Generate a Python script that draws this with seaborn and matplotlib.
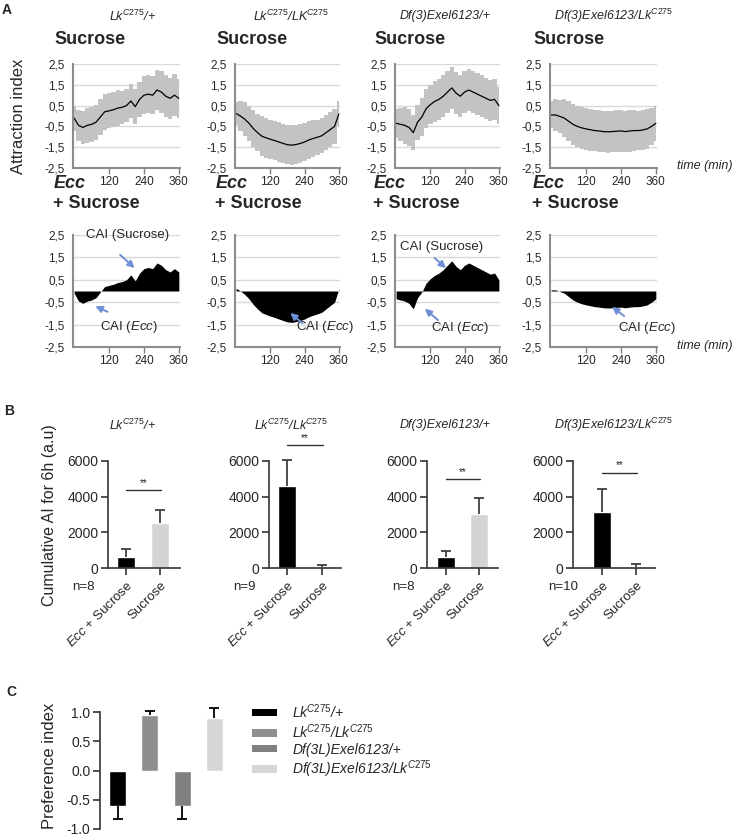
import numpy as np
import seaborn as sns
import matplotlib.pyplot as plt
from matplotlib.patches import Patch

sns.set_style("ticks")
plt.rcParams['font.family'] = ['Liberation Sans', 'DejaVu Sans']
plt.rcParams['mathtext.fontset'] = 'custom'
plt.rcParams['mathtext.rm'] = 'Liberation Sans'
plt.rcParams['mathtext.it'] = 'Liberation Sans:italic'
plt.rcParams['mathtext.bf'] = 'Liberation Sans:bold'
plt.rcParams['axes.unicode_minus'] = False

# ---------------- data ----------------
# panel A: attraction index to sucrose over time (mean and SEM band)
time_min = [0, 15, 30, 45, 60, 75, 90, 105, 120, 135, 150, 165, 180,
            195, 210, 225, 240, 255, 270, 285, 300, 315, 330, 345, 360]

ai_lk_het = [-0.10, -0.45, -0.55, -0.45, -0.40, -0.30, -0.05, 0.20, 0.25, 0.30, 0.38, 0.42, 0.50,
             0.72, 0.45, 0.80, 1.00, 1.05, 1.00, 1.25, 1.15, 0.95, 0.85, 1.00, 0.85]
ai_lk_hom = [0.12, 0.00, -0.15, -0.35, -0.60, -0.80, -0.97, -1.05, -1.12, -1.18, -1.25, -1.32, -1.38,
             -1.40, -1.37, -1.32, -1.25, -1.15, -1.08, -1.02, -0.95, -0.80, -0.65, -0.50, 0.10]
ai_df_het = [-0.35, -0.40, -0.45, -0.55, -0.80, -0.30, -0.05, 0.35, 0.55, 0.70, 0.80, 0.95, 1.15,
             1.35, 1.10, 0.95, 1.15, 1.25, 1.15, 1.05, 0.95, 0.85, 0.75, 0.80, 0.50]
ai_df_lk = [0.05, 0.05, -0.02, -0.10, -0.25, -0.40, -0.50, -0.57, -0.62, -0.66, -0.70, -0.72, -0.75,
            -0.76, -0.75, -0.73, -0.72, -0.75, -0.72, -0.70, -0.70, -0.67, -0.62, -0.50, -0.35]

sem_lk_het = [0.60, 0.75, 0.80, 0.85, 0.85, 0.85, 0.85, 0.85, 0.85, 0.85, 0.85, 0.80, 0.80,
              0.80, 0.85, 0.85, 0.90, 0.90, 0.90, 0.95, 1.00, 1.00, 1.00, 1.00, 0.95]
sem_lk_hom = [0.55, 0.70, 0.80, 0.85, 0.90, 0.90, 0.95, 0.95, 0.95, 0.95, 0.95, 0.95, 0.95,
              0.95, 0.95, 0.95, 0.90, 0.90, 0.90, 0.85, 0.85, 0.85, 0.85, 0.85, 0.60]
sem_df_het = [0.70, 0.80, 0.90, 0.90, 0.85, 0.85, 0.90, 0.95, 0.95, 1.00, 1.00, 1.00, 1.00,
              1.00, 1.00, 1.00, 1.00, 1.00, 1.00, 1.00, 1.00, 1.00, 1.00, 1.00, 0.90]
sem_df_lk = [0.65, 0.75, 0.80, 0.90, 0.95, 1.00, 1.00, 1.00, 1.00, 1.00, 1.00, 1.00, 1.00,
             1.00, 1.00, 1.00, 1.00, 1.00, 1.00, 1.00, 0.95, 0.95, 0.95, 0.90, 0.85]

geno_a = ['Lk$^{\\mathit{C275}}$/+', 'Lk$^{\\mathit{C275}}$/LK$^{\\mathit{C275}}$',
          'Df(3)Exel6123/+', 'Df(3)Exel6123/Lk$^{\\mathit{C275}}$']
geno_b = ['Lk$^{\\mathit{C275}}$/+', 'Lk$^{\\mathit{C275}}$/Lk$^{\\mathit{C275}}$',
          'Df(3)Exel6123/+', 'Df(3)Exel6123/Lk$^{\\mathit{C275}}$']
geno_c = ['Lk$^{\\mathit{C275}}$/+', 'Lk$^{\\mathit{C275}}$/Lk$^{\\mathit{C275}}$',
          'Df(3L)Exel6123/+', 'Df(3L)Exel6123/Lk$^{\\mathit{C275}}$']

# panel B: cumulative AI for 6h
treatments = ['Ecc + Sucrose', 'Sucrose']
cai_ecc = [620, 4610, 620, 3140]
cai_ecc_err = [430, 1430, 330, 1270]
cai_suc = [2520, 30, 3010, 60]
cai_suc_err = [750, 150, 930, 180]
n_flies = [8, 9, 8, 10]
sig_level = [4350, 6900, 5000, 5350]

# panel C: preference index
pref = [-0.61, 0.95, -0.61, 0.90]
pref_err = [0.22, 0.06, 0.22, 0.16]
pref_colors = ['#000000', '#8f8f8f', '#808080', '#d6d6d6']

ai_means = [ai_lk_het, ai_lk_hom, ai_df_het, ai_df_lk]
ai_sems = [sem_lk_het, sem_lk_hom, sem_df_het, sem_df_lk]

# ---------------- figure ----------------
W, H = 736, 839
fig = plt.figure(figsize=(W / 100, H / 100), dpi=100)


def add_ax(x0, y0, x1, y1):
    return fig.add_axes([x0 / W, 1 - y1 / H, (x1 - x0) / W, (y1 - y0) / H])


def ftext(x, y, s, **kw):
    fig.text(x / W, 1 - y / H, s, **kw)


def style_a(ax):
    ax.set_xlim(-4, 364)
    ax.set_ylim(-2.5, 2.5)
    ax.set_yticks([-2.5, -1.5, -0.5, 0.5, 1.5, 2.5])
    ax.set_yticklabels(['-2,5', '-1,5', '-0,5', '0,5', '1,5', '2,5'])
    ax.set_xticks([120, 240, 360])
    ax.set_axisbelow(True)
    ax.yaxis.grid(True, color='#d9d9d9', lw=1)
    ax.tick_params(axis='y', length=0, labelsize=8.5, pad=6)
    ax.tick_params(axis='x', length=4, width=1, color='#7f7f7f', labelsize=8.5, pad=2)
    for s in ['top', 'right']:
        ax.spines[s].set_visible(False)
    for s in ['left', 'bottom']:
        ax.spines[s].set_color('#8c8c8c')
        ax.spines[s].set_linewidth(1.5)


col_x0 = [73, 235, 395, 550]
col_x1 = [180, 340, 500, 657]
title_x = [132, 291, 445, 614]
lab_x = [54, 216, 374, 533]
arrow_c = '#6f8fd6'

# annotations (text pos, arrow tail, arrow head) in data coords
cai_notes = [
    [('CAI (Sucrose)', (185, 2.5), (151, 1.7), (215, 0.94)),
     ('CAI ($\\mathit{Ecc}$)', (188, -1.6), (124, -0.98), (64, -0.63))],
    [('CAI ($\\mathit{Ecc}$)', (312, -1.6), (240, -1.52), (182, -0.9))],
    [('CAI (Sucrose)', (158, 1.96), (127, 1.56), (182, 0.94)),
     ('CAI ($\\mathit{Ecc}$)', (223, -1.65), (154, -1.38), (93, -0.71))],
    [('CAI ($\\mathit{Ecc}$)', (330, -1.65), (259, -1.2), (202, -0.63))],
]

for i in range(4):
    t = np.array(time_min)
    m = np.array(ai_means[i])
    e = np.array(ai_sems[i])

    ax = add_ax(col_x0[i], 64, col_x1[i], 168)
    ax.fill_between(t, m - e, m + e, step='mid', color='#c3c3c3', lw=0)
    sns.lineplot(x=t, y=m, ax=ax, color='black', lw=0.9)
    style_a(ax)

    ax2 = add_ax(col_x0[i], 235, col_x1[i], 347)
    ax2.fill_between(t, 0, m, color='black', lw=0)
    style_a(ax2)
    for txt, tpos, tail, head in cai_notes[i]:
        ax2.text(tpos[0], tpos[1], txt, ha='center', va='center', fontsize=9.5)
        ax2.annotate('', xy=head, xytext=tail,
                     arrowprops=dict(arrowstyle='-|>', color=arrow_c, lw=1.4, mutation_scale=10))

    ftext(lab_x[i], 40, 'Sucrose', weight='bold', fontsize=13, va='center')
    ftext(lab_x[i], 184, 'Ecc', weight='bold', style='italic', fontsize=13, va='center')
    ftext(lab_x[i] - 1, 204, '+ Sucrose', weight='bold', fontsize=13, va='center')
    ftext(title_x[i], 16, geno_a[i], ha='center', va='center', style='italic', fontsize=9)
    ftext(title_x[i], 425, geno_b[i], ha='center', va='center', style='italic', fontsize=9)

ftext(19, 116, 'Attraction index', rotation=90, ha='center', va='center', fontsize=12)
ftext(677, 166, 'time (min)', style='italic', fontsize=9, va='center')
ftext(677, 346, 'time (min)', style='italic', fontsize=9, va='center')

# ---------------- panel B ----------------
bx0 = [108, 269, 427, 573]
bx1 = [180, 341, 498, 655]
b_xlim = [(-0.53, 1.59), (-0.51, 1.54), (-0.58, 1.58), (-0.85, 1.56)]
n_x = [72, 233, 392, 548]
dark = '#333333'

for i in range(4):
    ax = add_ax(bx0[i], 461, bx1[i], 568)
    vals = np.array([cai_ecc[i], cai_suc[i]])
    errs = np.array([cai_ecc_err[i], cai_suc_err[i]])
    sns.barplot(x=treatments, y=vals, hue=treatments, palette=['black', '#d4d4d4'],
                width=0.53, legend=False, ax=ax)
    xs = np.array([0, 1])
    ax.vlines(xs, vals, vals + errs, color='#404040', lw=1.3, clip_on=False)
    ax.hlines(vals + errs, xs - 0.15, xs + 0.15, color='#404040', lw=1.3, clip_on=False)
    ax.set_xlim(*b_xlim[i])
    ax.set_ylim(0, 6000)
    ax.set_yticks([0, 2000, 4000, 6000])
    ax.set_xticks([0, 1])
    ax.set_xticklabels(['$\\mathit{Ecc}$ + Sucrose', 'Sucrose'], rotation=45, ha='right',
                       rotation_mode='anchor', fontsize=9.5)
    ax.set_xlabel('')
    ax.set_ylabel('')
    ax.tick_params(axis='y', length=5, width=1.2, color=dark, labelsize=10, pad=2)
    ax.tick_params(axis='x', length=5, width=1.2, color=dark, pad=3)
    sns.despine(ax=ax)
    for s in ['left', 'bottom']:
        ax.spines[s].set_color(dark)
        ax.spines[s].set_linewidth(1.2)
    ax.plot([0, 1.03], [sig_level[i], sig_level[i]], color=dark, lw=1, clip_on=False)
    ax.text(0.515, sig_level[i] + 120, '**', ha='center', va='bottom', fontsize=7)
    ftext(n_x[i], 587, 'n=%d' % n_flies[i], fontsize=9.5, va='center')

ftext(50, 515, 'Cumulative AI for 6h (a.u)', rotation=90, ha='center', va='center', fontsize=11.5)

# ---------------- panel C ----------------
axc = add_ax(100, 712, 232, 829)
sns.barplot(x=geno_c, y=pref, hue=geno_c, palette=pref_colors, width=0.53, legend=False, ax=axc)
pv = np.array(pref)
pe = pv + np.sign(pv) * np.array(pref_err)
xc = np.arange(len(pref))
axc.vlines(xc, pv, pe, color='black', lw=1.3, clip_on=False)
axc.hlines(pe, xc - 0.155, xc + 0.155, color='black', lw=1.3, clip_on=False)
axc.set_xlim(-0.56, 3.56)
axc.set_ylim(-1, 1)
axc.set_yticks([-1, -0.5, 0, 0.5, 1])
axc.set_yticklabels(['-1.0', '-0.5', '0.0', '0.5', '1.0'])
axc.set_xticks([])
axc.set_xlabel('')
axc.set_ylabel('')
axc.tick_params(axis='y', length=5, width=1.2, color=dark, labelsize=10, pad=2)
for s in ['top', 'right', 'bottom']:
    axc.spines[s].set_visible(False)
axc.spines['left'].set_color(dark)
axc.spines['left'].set_linewidth(1.2)

handles = [Patch(facecolor=c, edgecolor='none', label=l) for c, l in zip(pref_colors, geno_c)]
fig.legend(handles=handles, loc='upper left', bbox_to_anchor=(252 / W, 1 - 702 / H),
           frameon=False, prop={'style': 'italic', 'size': 10}, handlelength=1.8,
           handleheight=0.45, handletextpad=1.1, labelspacing=0.12, borderpad=0, borderaxespad=0)

ftext(49, 766, 'Preference index', rotation=90, ha='center', va='center', fontsize=12)

# panel letters
ftext(2, 10, 'A', weight='bold', fontsize=10, va='center')
ftext(4, 411, 'B', weight='bold', fontsize=10, va='center')
ftext(6, 692, 'C', weight='bold', fontsize=10, va='center')

fig.savefig('out.png', dpi=100)
